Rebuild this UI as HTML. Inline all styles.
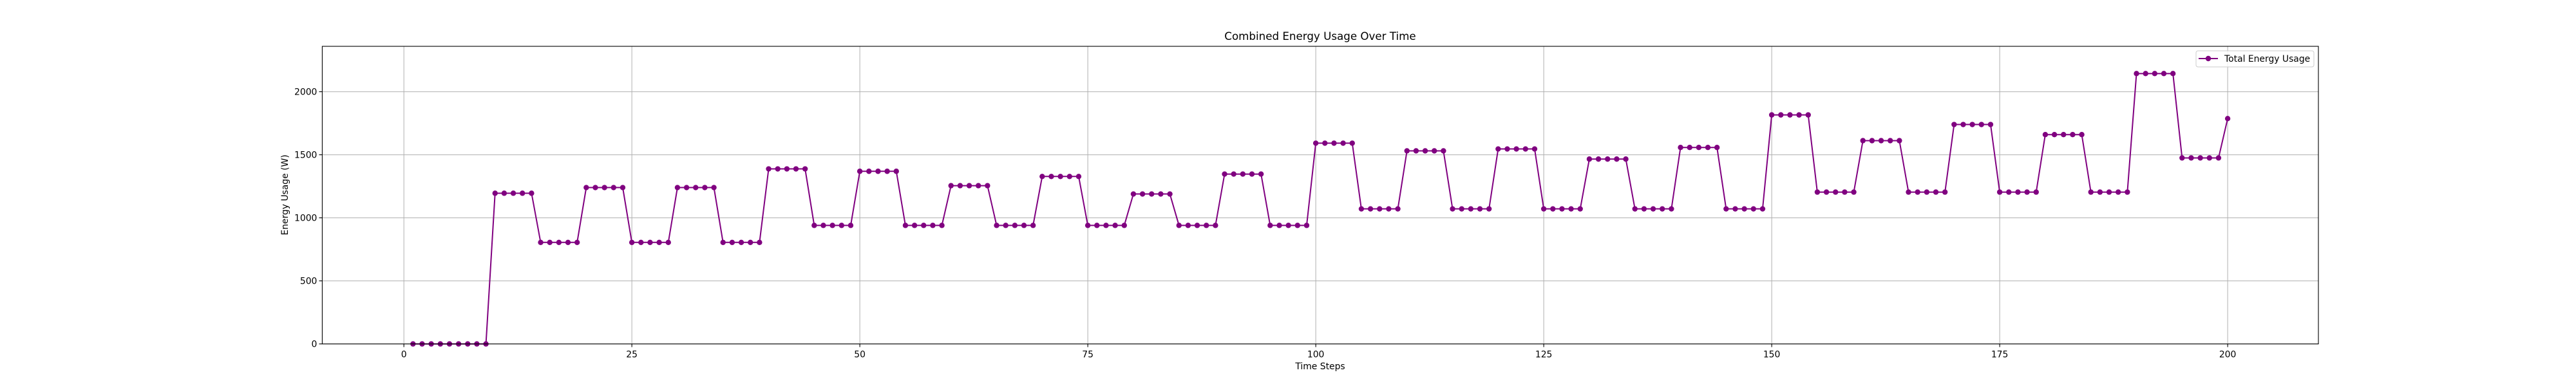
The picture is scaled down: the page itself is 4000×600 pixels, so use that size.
<!DOCTYPE html>
<html><head><meta charset="utf-8">
<style>
html,body{margin:0;padding:0;background:#fff;}
svg{display:block;font-family:"DejaVu Sans","Liberation Sans",sans-serif;}
</style></head>
<body>
<svg id="chart" width="4000" height="600" viewBox="0 0 4000 600" xmlns="http://www.w3.org/2000/svg">
<rect width="4000" height="600" fill="#fff"/>
<text x="2050" y="62" font-size="16.7" text-anchor="middle" fill="#000">Combined Energy Usage Over Time</text>
<g id="grid"></g>
<g id="ticks"></g>
<g id="series"></g>
<rect x="500.4" y="72" width="3099.6" height="462.6" fill="none" stroke="#000" stroke-width="1.1"/>
<text x="2050" y="574" font-size="13.9" text-anchor="middle">Time Steps</text>
<text transform="translate(447,303) rotate(-90)" font-size="13.9" text-anchor="middle">Energy Usage (W)</text>
<g>
<rect x="3410" y="79" width="183" height="25" rx="3" fill="#fff" fill-opacity="0.8" stroke="#ccc" stroke-width="1"/>
<line x1="3414" y1="91" x2="3444" y2="91" stroke="#800080" stroke-width="2"/>
<circle cx="3429" cy="91" r="4.2" fill="#800080"/>
<text x="3454" y="96" font-size="13.9">Total Energy Usage</text>
</g>
</svg>
<script>
const blockStarts = [1,10,15,20,25,30,35,40,45,50,55,60,65,70,75,80,85,90,95,100,105,110,115,120,125,130,135,140,145,150,155,160,165,170,175,180,185,190,195,200];
const blockValues = [0,1195,805,1240,805,1240,805,1388,940,1369,940,1255,940,1328,940,1189,940,1347,940,1592,1071,1531,1071,1546,1071,1466,1071,1558,1071,1816,1204,1612,1204,1740,1204,1660,1204,2144,1475,1787];
const xTicks = [0,25,50,75,100,125,150,175,200];
const yTicks = [0,500,1000,1500,2000];

const X0=500.4, X1=3600, Y0=534.6, Y1=72;
const xMin=-8.95, xMax=209.95, yMin=0, yMax=2360;
const sx = v => X0 + (v - xMin) / (xMax - xMin) * (X1 - X0);
const sy = v => Y0 - (v - yMin) / (yMax - yMin) * (Y0 - Y1);
const NS='http://www.w3.org/2000/svg';
function mk(tag, attrs, parent){const e=document.createElementNS(NS,tag);for(const k in attrs)e.setAttribute(k,attrs[k]);parent.appendChild(e);return e;}

// expand blocks into 200 points
const xs=[], ys=[];
for(let i=0;i<blockStarts.length;i++){
  const end = i+1<blockStarts.length ? blockStarts[i+1] : 201;
  for(let t=blockStarts[i]; t<end; t++){ xs.push(t); ys.push(blockValues[i]); }
}

const grid=document.getElementById('grid'), ticks=document.getElementById('ticks'), series=document.getElementById('series');
xTicks.forEach(v=>{
  const x=sx(v);
  const g=mk('line',{x1:x,x2:x,y1:Y1,y2:Y0,stroke:'#b0b0b0','stroke-width':1},grid);
  
  
  mk('line',{x1:x,x2:x,y1:Y0,y2:Y0+4.9,stroke:'#000','stroke-width':1.1},ticks);
  const t=mk('text',{x:x,y:Y0+21,'font-size':13.9,'text-anchor':'middle'},ticks);
  t.textContent=v;
  
  
});
yTicks.forEach(v=>{
  const y=sy(v);
  const g=mk('line',{x1:X0,x2:X1,y1:y,y2:y,stroke:'#b0b0b0','stroke-width':1},grid);
  
  
  mk('line',{x1:X0-4.9,x2:X0,y1:y,y2:y,stroke:'#000','stroke-width':1.1},ticks);
  const t=mk('text',{x:X0-8,y:y+5,'font-size':13.9,'text-anchor':'end'},ticks);
  t.textContent=v;
  
  
});
const pts=xs.map((x,i)=>sx(x).toFixed(2)+','+sy(ys[i]).toFixed(2)).join(' ');
const pl=mk('polyline',{points:pts,fill:'none',stroke:'#800080','stroke-width':2},series);


xs.forEach((x,i)=>{
  const c=mk('circle',{cx:sx(x),cy:sy(ys[i]),r:4.2,fill:'#800080'},series);
  
  
});
</script>
</body></html>
